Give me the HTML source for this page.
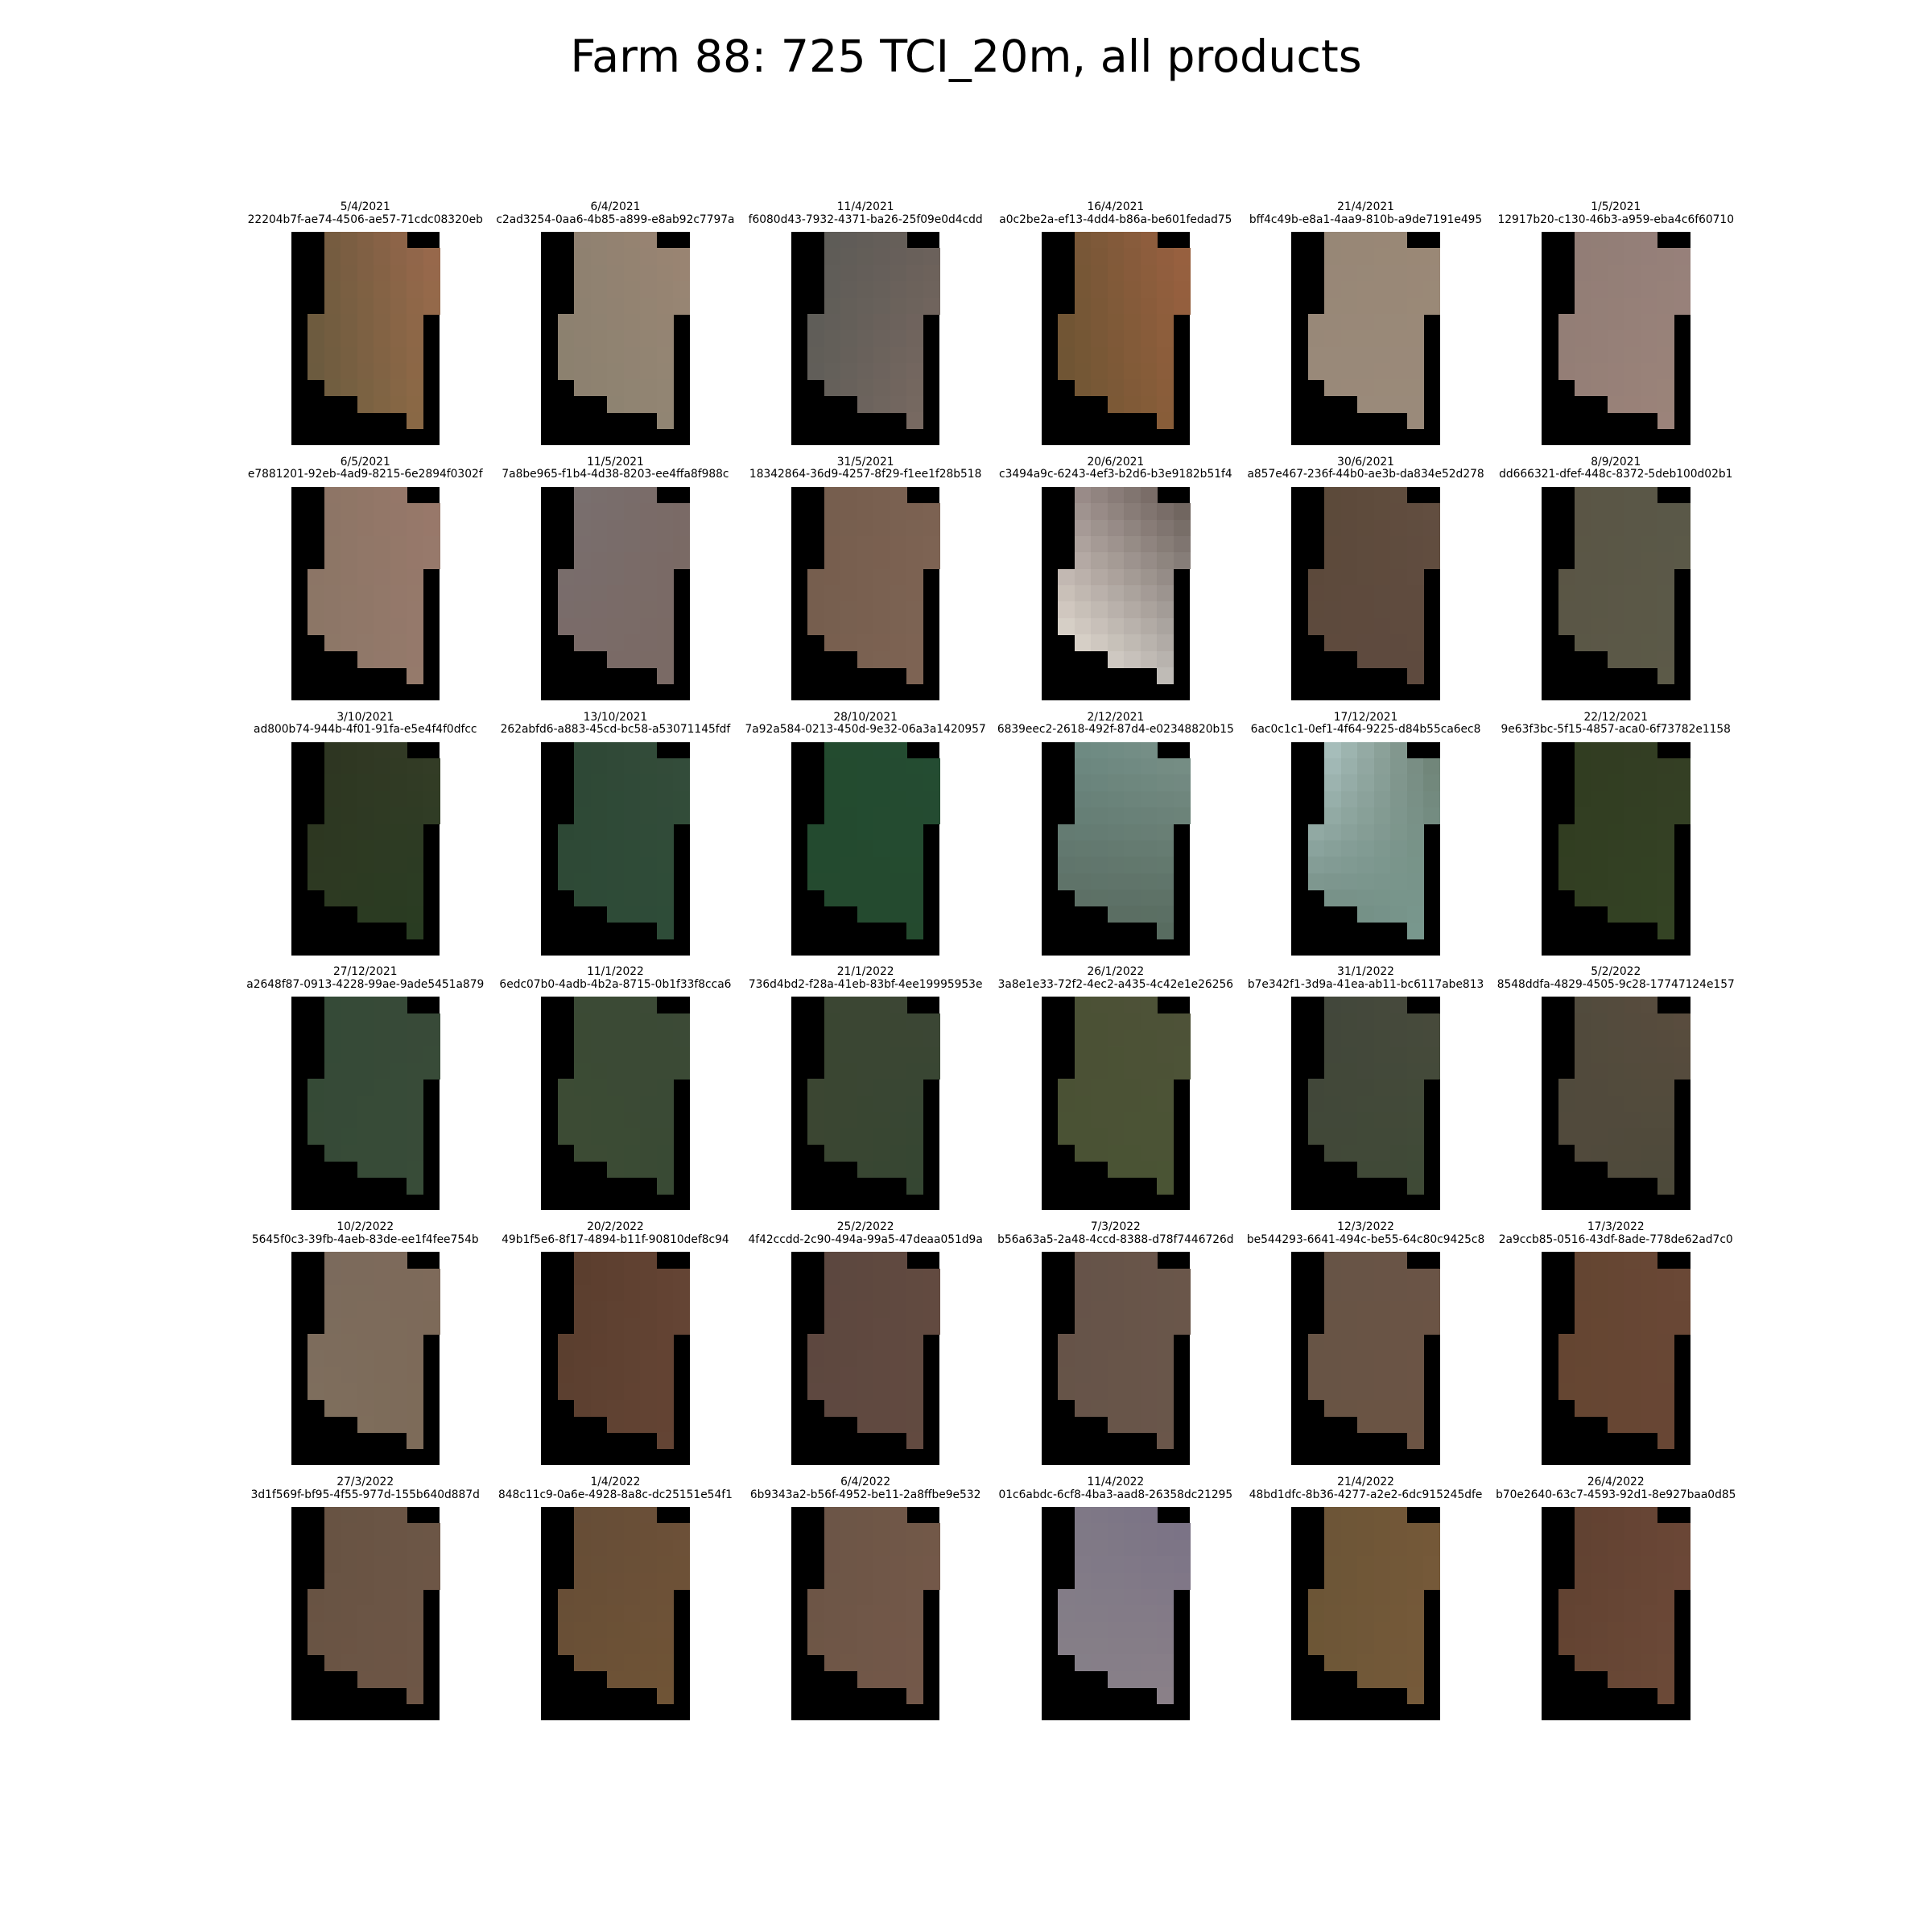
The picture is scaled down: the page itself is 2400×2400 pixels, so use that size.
<!DOCTYPE html>
<html><head><meta charset="utf-8">
<style>
html,body{margin:0;padding:0;background:#fff;}
#root{position:relative;width:2400px;height:2400px;overflow:hidden;background:#fff;font-family:"DejaVu Sans","Liberation Sans",sans-serif;}
.title{position:absolute;left:0;width:2400px;top:36px;text-align:center;font-size:55.5px;color:#000;line-height:70px;}
.lbl{position:absolute;width:340px;text-align:center;font-size:13.8px;line-height:15.5px;color:#000;white-space:nowrap;}
.tile{position:absolute;background:#000;}
.cell{position:absolute;}
</style></head>
<body>
<div id="root">
<div class="title">Farm 88: 725 TCI_20m, all products</div>
</div>
<script>
const tileDates = ["5/4/2021","6/4/2021","11/4/2021","16/4/2021","21/4/2021","1/5/2021",
"6/5/2021","11/5/2021","31/5/2021","20/6/2021","30/6/2021","8/9/2021",
"3/10/2021","13/10/2021","28/10/2021","2/12/2021","17/12/2021","22/12/2021",
"27/12/2021","11/1/2022","21/1/2022","26/1/2022","31/1/2022","5/2/2022",
"10/2/2022","20/2/2022","25/2/2022","7/3/2022","12/3/2022","17/3/2022",
"27/3/2022","1/4/2022","6/4/2022","11/4/2022","21/4/2022","26/4/2022"];
const tileIds = ["22204b7f-ae74-4506-ae57-71cdc08320eb","c2ad3254-0aa6-4b85-a899-e8ab92c7797a","f6080d43-7932-4371-ba26-25f09e0d4cdd","a0c2be2a-ef13-4dd4-b86a-be601fedad75","bff4c49b-e8a1-4aa9-810b-a9de7191e495","12917b20-c130-46b3-a959-eba4c6f60710",
"e7881201-92eb-4ad9-8215-6e2894f0302f","7a8be965-f1b4-4d38-8203-ee4ffa8f988c","18342864-36d9-4257-8f29-f1ee1f28b518","c3494a9c-6243-4ef3-b2d6-b3e9182b51f4","a857e467-236f-44b0-ae3b-da834e52d278","dd666321-dfef-448c-8372-5deb100d02b1",
"ad800b74-944b-4f01-91fa-e5e4f4f0dfcc","262abfd6-a883-45cd-bc58-a53071145fdf","7a92a584-0213-450d-9e32-06a3a1420957","6839eec2-2618-492f-87d4-e02348820b15","6ac0c1c1-0ef1-4f64-9225-d84b55ca6ec8","9e63f3bc-5f15-4857-aca0-6f73782e1158",
"a2648f87-0913-4228-99ae-9ade5451a879","6edc07b0-4adb-4b2a-8715-0b1f33f8cca6","736d4bd2-f28a-41eb-83bf-4ee19995953e","3a8e1e33-72f2-4ec2-a435-4c42e1e26256","b7e342f1-3d9a-41ea-ab11-bc6117abe813","8548ddfa-4829-4505-9c28-17747124e157",
"5645f0c3-39fb-4aeb-83de-ee1f4fee754b","49b1f5e6-8f17-4894-b11f-90810def8c94","4f42ccdd-2c90-494a-99a5-47deaa051d9a","b56a63a5-2a48-4ccd-8388-d78f7446726d","be544293-6641-494c-be55-64c80c9425c8","2a9ccb85-0516-43df-8ade-778de62ad7c0",
"3d1f569f-bf95-4f55-977d-155b640d887d","848c11c9-0a6e-4928-8a8c-dc25151e54f1","6b9343a2-b56f-4952-be11-2a8ffbe9e532","01c6abdc-6cf8-4ba3-aad8-26358dc21295","48bd1dfc-8b36-4277-a2e2-6dc915245dfe","b70e2640-63c7-4593-92d1-8e927baa0d85"];
// corner colours per tile: top-left, top-right, bottom-left, bottom-right
const colTL = ["#6a583c","#8c8070","#5a5a56","#6e5434","#968676","#907c74","#8a7464","#787070","#745c4c","#a89a98","#5a4838","#5a5444","#2c3420","#2c4634","#224a2e","#6a8880","#b8d0d0","#303c20","#344a36","#3a4a34","#3a4632","#4a5034","#40463a","#4e4a3c","#7a6a5c","#583c2c","#5a463e","#645248","#665446","#624430","#665242","#644c36","#6a5446","#807a86","#6a5436","#5e4030"];
const colTR = ["#98684c","#9a8472","#6a605a","#986040","#9a8876","#96807a","#98786a","#7a6a66","#7c6252","#6a5e58","#624e40","#5a5848","#343c26","#344c3a","#244c32","#789088","#708478","#343e24","#384a38","#3c4a36","#3c4634","#4e5238","#484a3c","#5a4c3e","#7e6a5a","#644434","#624a40","#6a564a","#6a5446","#6a4836","#6c5646","#6c5038","#725848","#7a7286","#745838","#6a4636"];
const colBL = ["#665a3e","#8a806e","#605e58","#6a5432","#9a8a7a","#947e76","#8a7666","#7a6a68","#765e4e","#f2ece0","#5e4a3e","#5a5646","#2e3a22","#2e4a36","#244a30","#5a6a60","#6a8278","#323e22","#364a36","#3e4c34","#3c4632","#4a5234","#424838","#524a3c","#80705e","#5c4030","#5e4840","#665448","#685444","#664632","#6a5444","#6a5036","#6e5646","#868088","#6c5636","#644432"];
const colBR = ["#8e6a46","#928674","#7a6a62","#8c5e3a","#9a8a7a","#9c847a","#967a6c","#7a6a64","#7e6454","#b8b4b0","#5e4a3e","#5c5a48","#283c22","#2e4c38","#244a2e","#586c60","#7a9a90","#344424","#384c38","#384a34","#344632","#4a5434","#3e4a36","#4c4a3a","#7c6a58","#644434","#624a40","#6a564a","#6c5444","#684634","#6e5646","#705436","#74584a","#8a8088","#765a3a","#6c4a38"];
const maskRows = ["..XXXXX..","..XXXXXXX","..XXXXXXX","..XXXXXXX","..XXXXXXX",".XXXXXXX.",".XXXXXXX.",".XXXXXXX.",".XXXXXXX.","..XXXXXX.","....XXXX.",".......X.","........."];

const X0=361.5, XS=310.7, Y0=288, YS=316.8, TW=184.5, TH=265;
function hex(c){return [parseInt(c.slice(1,3),16),parseInt(c.slice(3,5),16),parseInt(c.slice(5,7),16)];}
function mix(a,b,t){return a.map((v,i)=>v+(b[i]-v)*t);}
const root=document.getElementById('root');
for(let k=0;k<tileDates.length;k++){
  const c=k%6, r=Math.floor(k/6);
  const x=X0+c*XS, y=Y0+r*YS;
  const lab=document.createElement('div');
  lab.className='lbl';
  lab.style.left=(x+TW/2-170)+'px';
  lab.style.top=(y-38)+'px';
  lab.innerHTML=tileDates[k]+'<br>'+tileIds[k];
  
  
  root.appendChild(lab);
  const t=document.createElement('div');
  t.className='tile';
  t.style.left=x+'px';t.style.top=y+'px';t.style.width=TW+'px';t.style.height=TH+'px';
  
  
  root.appendChild(t);
  const tl=hex(colTL[k]),tr=hex(colTR[k]),bl=hex(colBL[k]),br=hex(colBR[k]);
  const cw=TW/9, ch=TH/13;
  for(let i=0;i<13;i++)for(let j=0;j<9;j++){
    if(maskRows[i][j]!=='X')continue;
    const u=j/8, v=i/11;
    const col=mix(mix(tl,tr,u),mix(bl,br,u),Math.min(v,1)).map(Math.round);
    const d=document.createElement('div');
    d.className='cell';
    d.style.left=(j*cw)+'px';d.style.top=(i*ch)+'px';
    d.style.width=(cw+0.6)+'px';d.style.height=(ch+0.6)+'px';
    d.style.background='rgb('+col.join(',')+')';
    t.appendChild(d);
  }
}
</script>
</body></html>
